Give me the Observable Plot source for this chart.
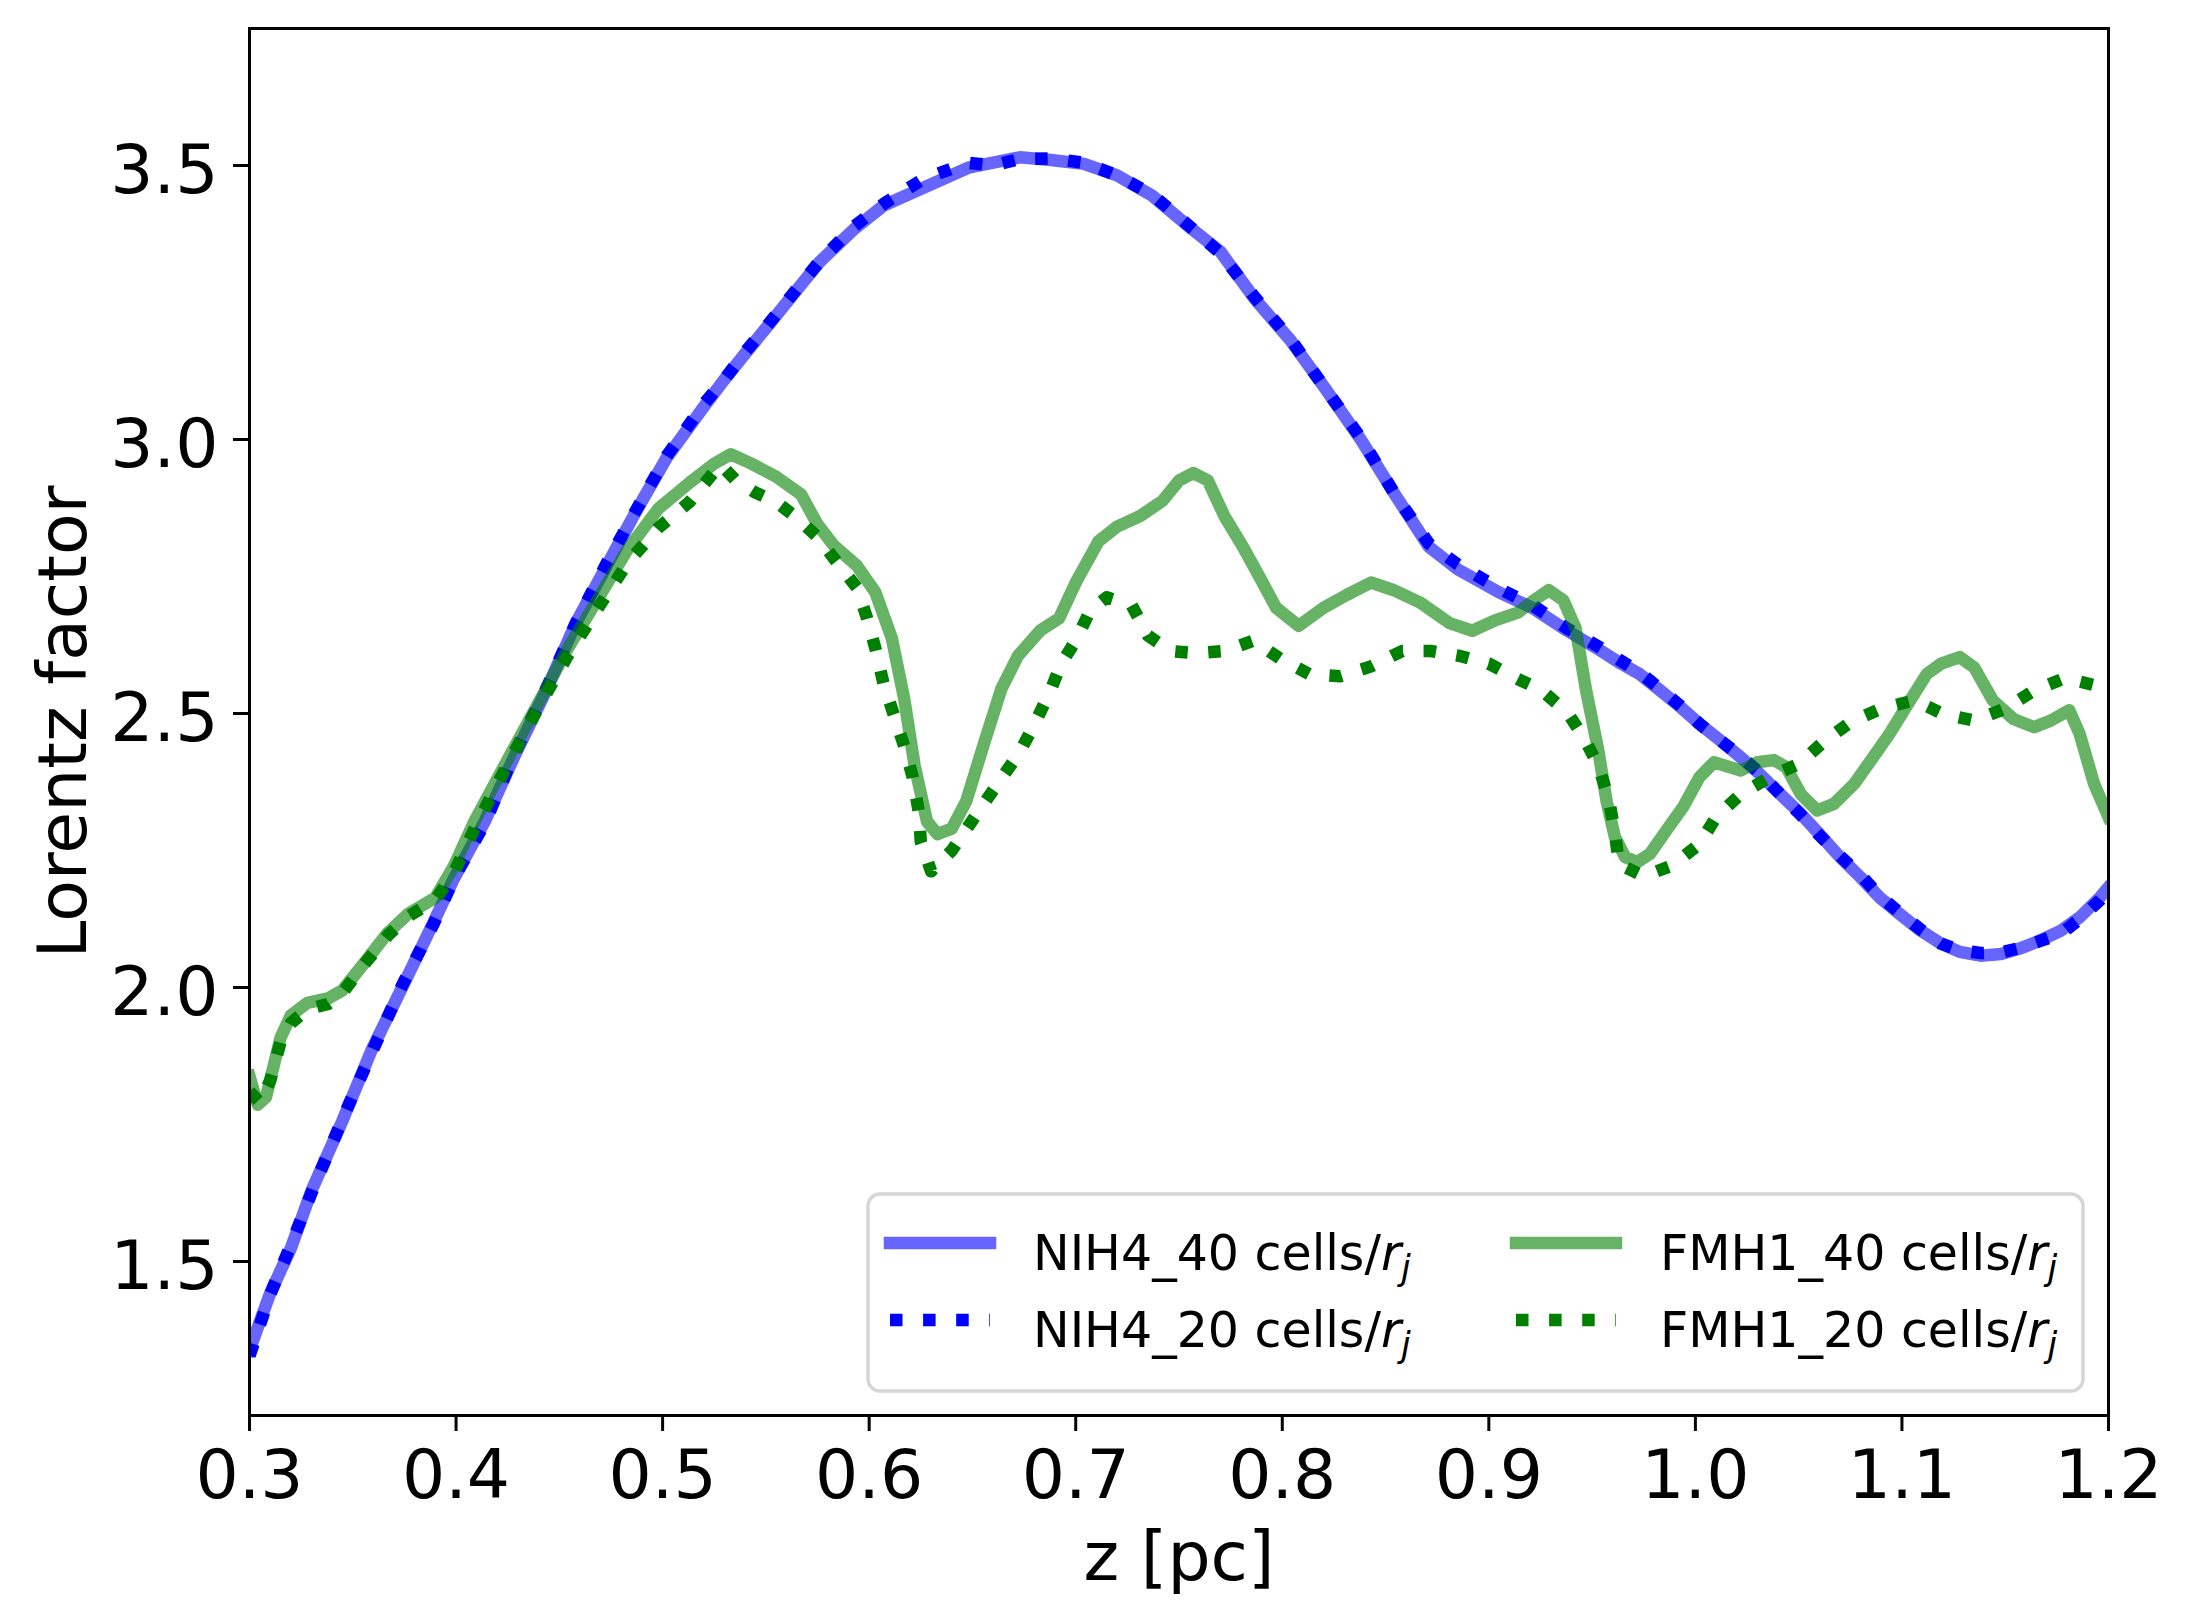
<!DOCTYPE html>
<html>
<head>
<meta charset="utf-8">
<script src="https://cdn.jsdelivr.net/npm/d3@7"></script>
<script src="https://cdn.jsdelivr.net/npm/@observablehq/plot@0.6"></script>
<style>
html, body { margin: 0; padding: 0; background: #ffffff; }
svg { display: block; }
</style>
</head>
<body>
<div id="chart"></div>
<script>
// ---------- data ----------
const nih40Z = [0.300,0.310,0.320,0.330,0.345,0.359,0.374,0.389,0.399,0.414,0.428,0.443,0.458,0.473,0.487,0.502,0.520,0.530,0.540,0.550,0.565,0.576,0.593,0.607,0.626,0.648,0.673,0.688,0.704,0.720,0.737,0.753,0.770,0.787,0.804,0.821,0.838,0.855,0.871,0.885,0.905,0.921,0.938,0.954,0.964,0.973,0.983,0.993,1.002,1.012,1.022,1.031,1.041,1.051,1.060,1.070,1.080,1.089,1.099,1.109,1.119,1.128,1.138,1.148,1.157,1.167,1.177,1.186,1.196,1.200];
const nih40G = [1.338,1.442,1.524,1.629,1.757,1.885,2.001,2.118,2.199,2.304,2.420,2.537,2.665,2.770,2.868,2.967,3.060,3.110,3.157,3.203,3.273,3.324,3.385,3.427,3.459,3.496,3.515,3.510,3.503,3.482,3.445,3.394,3.343,3.255,3.181,3.092,3.000,2.897,2.804,2.763,2.721,2.693,2.651,2.615,2.591,2.572,2.542,2.511,2.481,2.451,2.420,2.390,2.353,2.317,2.280,2.238,2.201,2.165,2.134,2.104,2.080,2.065,2.058,2.061,2.071,2.086,2.104,2.128,2.165,2.183];

const nih20Z = [0.300,0.310,0.320,0.330,0.345,0.359,0.374,0.389,0.399,0.414,0.428,0.443,0.458,0.473,0.487,0.502,0.520,0.530,0.540,0.550,0.565,0.576,0.593,0.607,0.626,0.648,0.660,0.673,0.688,0.704,0.720,0.737,0.753,0.770,0.787,0.804,0.821,0.838,0.855,0.871,0.885,0.905,0.921,0.938,0.954,0.964,0.973,0.983,0.993,1.002,1.012,1.022,1.031,1.041,1.051,1.060,1.070,1.080,1.089,1.099,1.109,1.119,1.128,1.138,1.148,1.157,1.167,1.177,1.186,1.196,1.200];
const nih20G = [1.328,1.440,1.530,1.625,1.760,1.880,2.005,2.115,2.200,2.300,2.425,2.540,2.665,2.775,2.870,2.970,3.065,3.110,3.160,3.205,3.275,3.325,3.390,3.430,3.475,3.505,3.500,3.512,3.513,3.505,3.482,3.447,3.396,3.340,3.258,3.183,3.092,3.003,2.897,2.810,2.772,2.728,2.698,2.655,2.620,2.596,2.575,2.545,2.513,2.481,2.451,2.422,2.392,2.353,2.315,2.278,2.240,2.205,2.168,2.136,2.106,2.080,2.068,2.063,2.064,2.072,2.085,2.098,2.125,2.160,2.178];

const fmh40Z = [0.300,0.304,0.308,0.315,0.320,0.328,0.338,0.345,0.355,0.367,0.377,0.390,0.399,0.409,0.424,0.439,0.454,0.469,0.483,0.498,0.513,0.525,0.533,0.543,0.555,0.567,0.575,0.583,0.594,0.603,0.611,0.617,0.622,0.628,0.633,0.640,0.647,0.656,0.664,0.672,0.683,0.692,0.700,0.711,0.720,0.731,0.742,0.750,0.757,0.764,0.772,0.781,0.789,0.797,0.808,0.820,0.831,0.843,0.854,0.867,0.881,0.892,0.903,0.914,0.922,0.929,0.936,0.942,0.947,0.953,0.957,0.961,0.966,0.972,0.978,0.986,0.994,1.002,1.009,1.022,1.030,1.038,1.044,1.051,1.059,1.067,1.077,1.086,1.094,1.102,1.112,1.119,1.128,1.135,1.144,1.154,1.164,1.172,1.181,1.186,1.193,1.200];
const fmh40G = [1.838,1.786,1.800,1.908,1.949,1.972,1.980,1.995,2.042,2.100,2.135,2.164,2.222,2.304,2.409,2.513,2.618,2.711,2.799,2.874,2.921,2.956,2.973,2.956,2.932,2.900,2.845,2.806,2.770,2.721,2.637,2.526,2.405,2.303,2.280,2.290,2.340,2.450,2.545,2.605,2.652,2.674,2.739,2.814,2.841,2.860,2.888,2.925,2.939,2.925,2.860,2.804,2.749,2.693,2.660,2.693,2.716,2.739,2.725,2.702,2.665,2.651,2.670,2.684,2.707,2.725,2.707,2.656,2.544,2.433,2.340,2.275,2.238,2.229,2.244,2.287,2.329,2.384,2.411,2.396,2.411,2.415,2.402,2.353,2.323,2.335,2.372,2.420,2.463,2.512,2.572,2.591,2.603,2.584,2.524,2.490,2.475,2.487,2.506,2.463,2.372,2.311];

const fmh20Z = [0.300,0.305,0.310,0.315,0.320,0.328,0.338,0.345,0.355,0.367,0.377,0.390,0.399,0.409,0.424,0.439,0.454,0.469,0.483,0.498,0.513,0.528,0.535,0.545,0.555,0.565,0.575,0.584,0.594,0.599,0.603,0.607,0.612,0.617,0.621,0.624,0.625,0.630,0.640,0.650,0.660,0.673,0.681,0.688,0.693,0.700,0.707,0.715,0.727,0.735,0.746,0.758,0.772,0.786,0.799,0.813,0.828,0.843,0.858,0.872,0.886,0.900,0.914,0.925,0.938,0.946,0.953,0.958,0.961,0.963,0.975,0.989,1.002,1.010,1.022,1.036,1.050,1.062,1.075,1.090,1.106,1.120,1.135,1.150,1.164,1.179,1.194,1.200];
const fmh20G = [1.810,1.790,1.830,1.900,1.935,1.960,1.970,1.990,2.040,2.095,2.130,2.160,2.210,2.290,2.400,2.505,2.605,2.694,2.775,2.839,2.886,2.955,2.927,2.903,2.886,2.857,2.822,2.778,2.730,2.674,2.619,2.554,2.497,2.440,2.385,2.321,2.266,2.212,2.250,2.305,2.360,2.430,2.488,2.544,2.591,2.633,2.688,2.712,2.698,2.642,2.614,2.610,2.614,2.633,2.600,2.572,2.568,2.586,2.614,2.614,2.605,2.591,2.563,2.544,2.502,2.456,2.405,2.345,2.284,2.225,2.203,2.223,2.262,2.311,2.353,2.384,2.408,2.448,2.484,2.509,2.524,2.499,2.487,2.509,2.542,2.565,2.551,2.548];

const xTicks = [0.3, 0.4, 0.5, 0.6, 0.7, 0.8, 0.9, 1.0, 1.1, 1.2];
const yTicks = [1.5, 2.0, 2.5, 3.0, 3.5];
const xDomain = [0.3, 1.2];
const yDomain = [1.219, 3.75];
const xLabel = "z [pc]";
const yLabel = "Lorentz factor";
const legendPrefix = ["NIH4_40 cells/", "NIH4_20 cells/", "FMH1_40 cells/", "FMH1_20 cells/"];
const legendMath = ["r", "j"];

// ---------- build ----------
const rows = (z, g) => z.map((v, i) => ({z: v, g: g[i]}));

const W = 2190, H = 1623;
const LW = 12.5;
const DOT = "12.5,20.6";
const solidBlue = {stroke: "#0000ff", strokeOpacity: 0.6};
const solidGreen = {stroke: "#008000", strokeOpacity: 0.6};
const common = {x: "z", y: "g", strokeWidth: LW, strokeLinejoin: "round", clip: true};

const svg = Plot.plot({
  width: W,
  height: H,
  marginLeft: 249,
  marginRight: 82,
  marginTop: 28,
  marginBottom: 208,
  style: {fontFamily: "'DejaVu Sans', sans-serif", background: "white", color: "black", overflow: "visible"},
  x: {domain: xDomain},
  y: {domain: yDomain},
  marks: [
    Plot.line(rows(nih40Z, nih40G), {...common, ...solidBlue, strokeLinecap: "square"}),
    Plot.line(rows(nih20Z, nih20G), {...common, stroke: "#0000ff", strokeDasharray: DOT, strokeLinecap: "butt"}),
    Plot.line(rows(fmh40Z, fmh40G), {...common, ...solidGreen, strokeLinecap: "square"}),
    Plot.line(rows(fmh20Z, fmh20G), {...common, stroke: "#008000", strokeDasharray: DOT, strokeLinecap: "butt"}),
    Plot.frame({stroke: "black", strokeWidth: 3}),
    Plot.axisX({ticks: xTicks, tickSize: 16, strokeWidth: 3, tickFormat: () => "", label: null}),
    Plot.axisX({ticks: xTicks, tickSize: 0, tickPadding: 34, tickFormat: d3.format(".1f"), fontSize: 68, label: null}),
    Plot.axisY({ticks: yTicks, tickSize: 16, strokeWidth: 3, tickFormat: () => "", label: null}),
    Plot.axisY({ticks: yTicks, tickSize: 0, tickPadding: 31, dy: 6, tickFormat: d3.format(".1f"), fontSize: 68, label: null}),
    Plot.text([xLabel], {frameAnchor: "bottom", textAnchor: "middle", lineAnchor: "middle", dy: 143, fontSize: 68, text: d => d}),
    Plot.text([yLabel], {frameAnchor: "left", textAnchor: "middle", lineAnchor: "middle", dx: -185, rotate: -90, fontSize: 68, text: d => d})
  ]
});

// ---------- legend ----------
const g = d3.select(svg).append("g")
  .attr("font-family", "'DejaVu Sans', sans-serif")
  .attr("text-anchor", "start");
g.append("rect")
  .attr("x", 868).attr("y", 1194).attr("width", 1215).attr("height", 197)
  .attr("rx", 12).attr("ry", 12)
  .attr("fill", "white").attr("fill-opacity", 0.8)
  .attr("stroke", "#cccccc").attr("stroke-opacity", 0.8).attr("stroke-width", 3.5);

const entries = [
  {i: 0, col: 0, row: 0, stroke: "#0000ff", opacity: 0.6, dash: null},
  {i: 1, col: 0, row: 1, stroke: "#0000ff", opacity: 1, dash: DOT},
  {i: 2, col: 1, row: 0, stroke: "#008000", opacity: 0.6, dash: null},
  {i: 3, col: 1, row: 1, stroke: "#008000", opacity: 1, dash: DOT}
];
const colX = [890, 1516];
const textX = [1033, 1660];
const rowY = [1243, 1320];
entries.forEach(e => {
  const y = rowY[e.row];
  const l = g.append("line")
    .attr("x1", colX[e.col]).attr("x2", colX[e.col] + 100)
    .attr("y1", y).attr("y2", y)
    .attr("stroke", e.stroke).attr("stroke-opacity", e.opacity)
    .attr("stroke-width", LW)
    .attr("stroke-linecap", e.dash ? "butt" : "square");
  if (e.dash) l.attr("stroke-dasharray", e.dash);
  const t = g.append("text")
    .attr("x", textX[e.col]).attr("y", y + 27)
    .attr("text-anchor", "start")
    .attr("font-size", 49).attr("fill", "black");
  t.append("tspan").text(legendPrefix[e.i]);
  t.append("tspan").attr("font-style", "italic").text(legendMath[0]);
  t.append("tspan").attr("font-style", "italic").attr("font-size", 35).attr("dy", 10).text(legendMath[1]);
});

document.getElementById("chart").appendChild(svg);
</script>
</body>
</html>
